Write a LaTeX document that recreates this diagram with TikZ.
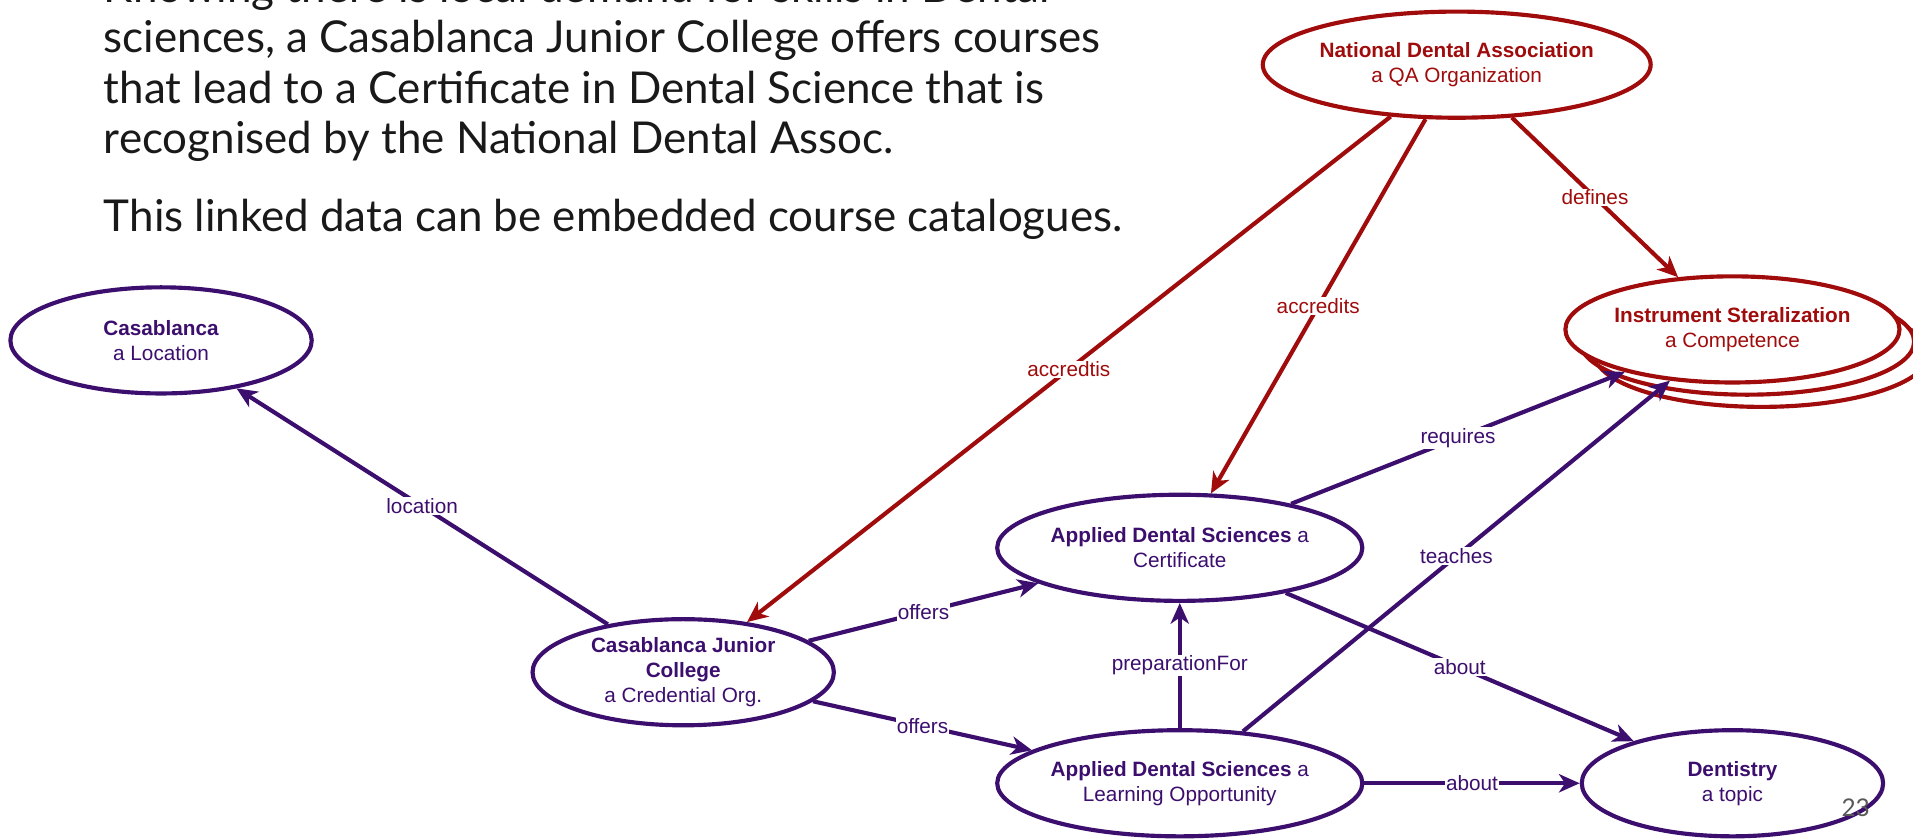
\documentclass[tikz,border=0pt]{standalone}
\usepackage{fontspec}
\usetikzlibrary{shapes.geometric, arrows.meta, shadows, positioning}
\setmainfont{Liberation Sans}
\newfontfamily\slidefont{Lato}
\definecolor{plum}{HTML}{3C0F6E}
\definecolor{qared}{HTML}{A00B0B}

\begin{document}
\begin{tikzpicture}[x=1pt, y=-1pt]
        \tikzstyle{every node}+=[inner sep=0pt]
        \tikzstyle{concept}=[ellipse, draw=plum, line width=3.4pt, fill=white, text=plum, minimum width=247pt, minimum height=87pt, align=center, font=\fontsize{17}{20.5}\selectfont]
        \tikzstyle{redconcept}=[concept, draw=qared, text=qared]
        \tikzstyle{link}=[draw=plum, line width=3.4pt, -{Stealth[length=17pt, width=15pt, inset=5pt]}]
        \tikzstyle{redlink}=[link, draw=qared]
        \tikzstyle{rel}=[fill=white, text=plum, inner sep=1pt, font=\fontsize{17}{20}\selectfont]
        \tikzstyle{redrel}=[rel, text=qared]
        \tikzstyle{slide}=[anchor=base west, text=black!90, font=\slidefont\fontsize{36}{41}\selectfont]
        \useasboundingbox (0,0) rectangle (1568,688);
        \node (line0) at (85,2) [slide] {Knowing there is local demand for skills in Dental};
        \node (line1) at (85,43) [slide] {sciences, a Casablanca Junior College offers courses};
        \node (line2) at (85,84.5) [slide] {that lead to a Certificate in Dental Science that is};
        \node (line3) at (85,126) [slide] {recognised by the National Dental Assoc.};
        \node (line4) at (85,190) [slide] {This linked data can be embedded course catalogues.};
        \node (casa) at (132,279) [concept] {\textbf{Casablanca}\\a Location};
        \node (nda) at (1194,53) [redconcept] {\textbf{National Dental Association}\\a QA Organization};
        \node (skill) at (1420,270) [redconcept, copy shadow={shadow xshift=24pt, shadow yshift=-20pt, fill=white, draw=qared, line width=3.4pt}, copy shadow={shadow xshift=12pt, shadow yshift=-10pt, fill=white, draw=qared, line width=3.4pt}] {\textbf{Instrument Steralization}\\a Competence};
        \node (cert) at (967,449) [concept] {\textbf{Applied Dental Sciences} a\\Certificate};
        \node (college) at (560,551) [concept] {\textbf{Casablanca Junior}\\\textbf{College}\\a Credential Org.};
        \node (lo) at (967,642) [concept] {\textbf{Applied Dental Sciences} a\\Learning Opportunity};
        \node (topic) at (1420,642) [concept] {\textbf{Dentistry}\\a topic};
        \node (page) at (1521,662) [text=black!65, font=\slidefont\fontsize{20}{24}\selectfont] {23};
        \draw [link] (college) -- node [rel] {location} (casa);
        \draw [redlink] (nda) -- node [redrel] {accredtis} (college);
        \draw [redlink] (nda) -- node [redrel] {accredits} (cert);
        \draw [redlink] (nda) -- node [redrel] {defines} (skill);
        \draw [link] (college) -- node [rel] {offers} (cert);
        \draw [link] (college) -- node [rel] {offers} (lo);
        \draw [link] (lo) -- node [rel] {preparationFor} (cert);
        \draw [link] (cert) -- node [rel] {requires} (skill);
        \draw [link] (lo) -- node [rel] {teaches} (skill);
        \draw [link] (cert) -- node [rel] {about} (topic);
        \draw [link] (lo) -- node [rel] {about} (topic);
\end{tikzpicture}
\end{document}
